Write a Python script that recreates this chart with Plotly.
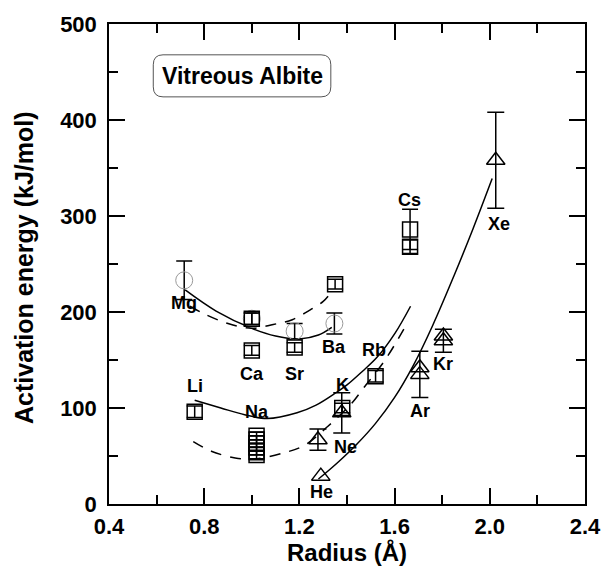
import plotly.graph_objects as go

FONT = "Liberation Sans, Arial, Helvetica, sans-serif"

# ---- measured activation energies (kJ/mol) vs radius (Å) ----
# cations, open squares
sq_r = [0.76, 1.00, 1.00, 1.02, 1.02, 1.02, 1.02, 1.02, 1.02, 1.18, 1.35, 1.38, 1.52, 1.665, 1.665]
sq_E = [96, 193, 160, 71, 67, 63, 59, 55, 51, 163, 229, 100, 133, 286, 268]
sq_err = [6, 6, 5, 4, 4, 4, 4, 4, 5, 5, 5, 5, 6, 21, 7]

# alkaline-earth cations, second data set (grey circles)
ci_r = [0.716, 1.00, 1.18, 1.347]
ci_E = [233, 193, 180, 188]
ci_err = [20, 6, 8, 11]

# noble gases, open triangles (with error bars)
tr_r = [1.278, 1.378, 1.706, 1.805, 2.025]
tr_E = [67, 95, 135, 170, 358]
tr_err = [11, 21, 24, 12, 50]
# noble gases, open triangles (no error bars)
tr2_r = [1.29, 1.706, 1.805]
tr2_E = [29, 142, 175]

# ---- trend curves ----
mg_ba_solid_r = [0.72, 0.85, 1.0, 1.1, 1.2, 1.28, 1.336]
mg_ba_solid_E = [223, 201, 183, 175, 172, 176, 184]
mg_ba_dash_r = [0.74, 0.80, 0.90, 1.0, 1.09, 1.17, 1.25, 1.30, 1.335]
mg_ba_dash_E = [206, 198, 188, 183, 187, 192, 203, 211, 221]

li_rb_solid_r = [0.76, 0.87, 0.97, 1.065, 1.19, 1.27, 1.354, 1.40, 1.464, 1.527, 1.602, 1.667]
li_rb_solid_E = [108, 100, 93, 89, 95, 103, 116, 124, 138, 153, 178, 206]
li_rb_dash_r = [0.754, 0.83, 0.93, 1.01, 1.13, 1.22, 1.32, 1.42, 1.47, 1.56, 1.65]
li_rb_dash_E = [65, 55, 48, 47, 53, 61, 81, 105, 121, 150, 187]

he_xe_r = [1.28, 1.36, 1.44, 1.52, 1.60, 1.68, 1.76, 1.85, 1.93, 2.01]
he_xe_E = [26, 43, 62, 84, 111, 145, 186, 238, 287, 339]

# element labels: (text, radius, energy)
labels = [
    ("Mg", 0.716, 209), ("Ca", 1.00, 135), ("Sr", 1.18, 135), ("Ba", 1.347, 164),
    ("Li", 0.76, 123), ("Na", 1.02, 96), ("K", 1.382, 124), ("Rb", 1.513, 160),
    ("Cs", 1.664, 317), ("He", 1.292, 12), ("Ne", 1.395, 59), ("Ar", 1.706, 97),
    ("Kr", 1.805, 146), ("Xe", 2.037, 292),
]

fig = go.Figure()


def curve(xs, ys, dash=None):
    fig.add_trace(go.Scatter(
        x=xs, y=ys, mode="lines", line_shape="spline",
        line=dict(color="black", width=1.5, dash=dash or "solid"),
        hoverinfo="skip", showlegend=False))


curve(mg_ba_solid_r, mg_ba_solid_E)
curve(mg_ba_dash_r, mg_ba_dash_E, "11px,9px")
curve(li_rb_solid_r, li_rb_solid_E)
curve(li_rb_dash_r, li_rb_dash_E, "11px,9px")
curve(he_xe_r, he_xe_E)

fig.add_trace(go.Scatter(
    x=ci_r, y=ci_E, mode="markers",
    marker=dict(symbol="circle-open", size=17, color="#9a9a9a", line=dict(width=1, color="#9a9a9a")),
    error_y=dict(type="data", array=ci_err, color="black", thickness=1.5, width=8),
    showlegend=False))

fig.add_trace(go.Scatter(
    x=sq_r, y=sq_E, mode="markers",
    marker=dict(symbol="square-open", size=15, color="black", line=dict(width=1.5, color="black")),
    error_y=dict(type="data", array=sq_err, color="black", thickness=1.5, width=8),
    showlegend=False))

fig.add_trace(go.Scatter(
    x=tr_r, y=tr_E, mode="markers",
    marker=dict(symbol="triangle-up-open", size=16, color="black", line=dict(width=1.5, color="black")),
    error_y=dict(type="data", array=tr_err, color="black", thickness=1.5, width=8.5),
    showlegend=False))

fig.add_trace(go.Scatter(
    x=tr2_r, y=tr2_E, mode="markers",
    marker=dict(symbol="triangle-up-open", size=16, color="black", line=dict(width=1.5, color="black")),
    showlegend=False))

annotations = []
for txt, x, y in labels:
    annotations.append(dict(x=x, y=y, xref="x", yref="y", text=f"<b>{txt}</b>", showarrow=False,
                            font=dict(family=FONT, size=18, color="black"),
                            xanchor="center", yanchor="middle"))

# sample name inside the rounded box
annotations.append(dict(x=0.962, y=446, xref="x", yref="y", text="<b>Vitreous Albite</b>",
                        showarrow=False, font=dict(family=FONT, size=23, color="black"),
                        xanchor="center", yanchor="middle"))

# axis titles
annotations.append(dict(x=0, y=0.5, xref="paper", yref="paper", text="<b>Activation energy (kJ/mol)</b>",
                        textangle=-90, showarrow=False, xshift=-85, yshift=-4,
                        font=dict(family=FONT, size=25, color="black"),
                        xanchor="center", yanchor="middle"))
annotations.append(dict(x=0.5, y=0, xref="paper", yref="paper", text="<b>Radius (Å)</b>",
                        showarrow=False, yshift=-48,
                        font=dict(family=FONT, size=24, color="black"),
                        xanchor="center", yanchor="middle"))

# rounded box around the sample name
x0, x1, y0, y1 = 0.586, 1.332, 424.1, 467.9
rx, ry = 0.041, 10.4
box = (f"M {x0+rx},{y0} L {x1-rx},{y0} Q {x1},{y0} {x1},{y0+ry} "
       f"L {x1},{y1-ry} Q {x1},{y1} {x1-rx},{y1} "
       f"L {x0+rx},{y1} Q {x0},{y1} {x0},{y1-ry} "
       f"L {x0},{y0+ry} Q {x0},{y0} {x0+rx},{y0} Z")

axis_common = dict(
    showline=True, linecolor="black", linewidth=1.5, mirror="ticks",
    ticks="inside", ticklen=16, tickwidth=1.5, tickcolor="black",
    showgrid=False, zeroline=False,
    tickfont=dict(family=FONT, size=22, color="black"),
)

fig.update_layout(
    width=613, height=569,
    margin=dict(l=109, r=20, t=21, b=65),
    paper_bgcolor="white", plot_bgcolor="white",
    shapes=[dict(type="path", path=box, xref="x", yref="y",
                 line=dict(color="#555", width=1))],
    annotations=annotations,
    xaxis=dict(range=[0.4, 2.4], tickvals=[0.4, 0.8, 1.2, 1.6, 2.0, 2.4],
               ticktext=["<b>0.4</b>", "<b>0.8</b>", "<b>1.2</b>", "<b>1.6</b>", "<b>2.0</b>", "<b>2.4</b>"],
               minor=dict(tickvals=[0.6, 1.0, 1.4, 1.8, 2.2], ticks="inside", ticklen=9,
                          tickwidth=1.5, tickcolor="black"),
               ticklabelstandoff=2, **axis_common),
    yaxis=dict(range=[0, 500], tickvals=[0, 100, 200, 300, 400, 500],
               ticktext=["<b>0</b>", "<b>100</b>", "<b>200</b>", "<b>300</b>", "<b>400</b>", "<b>500</b>"],
               minor=dict(tickvals=[50, 150, 250, 350, 450], ticks="inside", ticklen=9,
                          tickwidth=1.5, tickcolor="black"),
               ticklabelstandoff=6, **axis_common),
)

fig.write_html("out.html")
